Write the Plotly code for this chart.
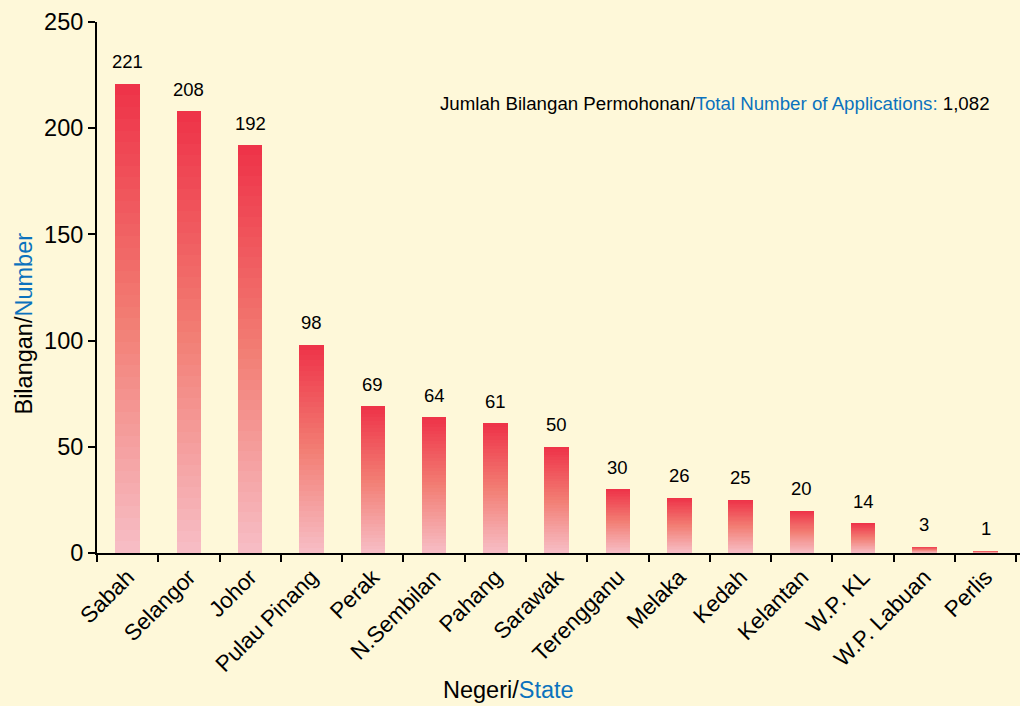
import plotly.graph_objects as go

states = ["Sabah", "Selangor", "Johor", "Pulau Pinang", "Perak", "N.Sembilan", "Pahang",
          "Sarawak", "Terengganu", "Melaka", "Kedah", "Kelantan", "W.P. KL", "W.P. Labuan", "Perlis"]
applications = [221, 208, 192, 98, 69, 64, 61, 50, 30, 26, 25, 20, 14, 3, 1]

BG = "#FEF8D9"
BLUE = "#0B72BD"
FONT = "Liberation Sans, Arial, Helvetica, sans-serif"

# gradient colour stops (bottom -> top)
stops = [(0.0, (247, 190, 198)), (0.5, (242, 125, 115)), (1.0, (238, 50, 72))]


def grad(t):
    for (t0, c0), (t1, c1) in zip(stops[:-1], stops[1:]):
        if t0 <= t <= t1:
            f = (t - t0) / (t1 - t0)
            c = [round(a + (b - a) * f) for a, b in zip(c0, c1)]
            return f"rgb({c[0]},{c[1]},{c[2]})"
    return f"rgb{stops[-1][1]}"


N = 40
fig = go.Figure()
for k in range(N):
    fig.add_trace(go.Bar(
        x=states,
        y=[v / N for v in applications],
        marker=dict(color=grad((k + 0.5) / N), line=dict(width=0)),
        width=0.4,
        hoverinfo="skip",
        showlegend=False,
    ))

# value labels
for s, v in zip(states, applications):
    fig.add_annotation(x=s, y=v, xref="x", yref="y", text=str(v), showarrow=False,
                       yanchor="middle", yshift=22,
                       font=dict(family=FONT, size=18.5, color="black"))

W, H = 1020, 706
L, R, T, B = 96.5, 0, 22, 153
pw = W - L - R
fig.add_annotation(
    x=(992 - L) / pw, y=211.5, xref="paper", yref="y", xanchor="right", yanchor="middle",
    showarrow=False,
    text=f"Jumlah Bilangan Permohonan/<span style='color:{BLUE}'>Total Number of Applications:</span> {sum(applications):,}",
    font=dict(family=FONT, size=18.7, color="black"))

# axis titles
fig.add_annotation(
    x=(508 - L) / pw, y=-(690 - (H - B)) / (H - T - B), xref="paper", yref="paper",
    xanchor="center", yanchor="middle", showarrow=False,
    text=f"Negeri/<span style='color:{BLUE}'>State</span>",
    font=dict(family=FONT, size=23.5, color="black"))
fig.add_annotation(
    x=(23 - L) / pw, y=(H - B - 324) / (H - T - B), xref="paper", yref="paper",
    xanchor="center", yanchor="middle", showarrow=False, textangle=-90,
    text=f"Bilangan/<span style='color:{BLUE}'>Number</span>",
    font=dict(family=FONT, size=23.5, color="black"))

fig.update_layout(
    width=W, height=H,
    margin=dict(l=L, r=R, t=T, b=B, pad=0),
    paper_bgcolor=BG, plot_bgcolor=BG,
    barmode="stack", bargap=0,
    font=dict(family=FONT, color="black"),
    showlegend=False,
)
fig.update_xaxes(
    range=[-0.5, 14.56], showgrid=False, zeroline=False,
    showline=True, linecolor="black", linewidth=2,
    ticks="outside", tickson="boundaries", ticklen=7, tickwidth=2, tickcolor="black",
    tickangle=-45, tickfont=dict(family=FONT, size=22.5, color="black"),
)
fig.update_yaxes(
    range=[0, 250], tickvals=[0, 50, 100, 150, 200, 250], showgrid=False, zeroline=False,
    showline=True, linecolor="black", linewidth=2,
    ticks="outside", ticklen=7, tickwidth=2, tickcolor="black",
    tickfont=dict(family=FONT, size=23.5, color="black"),
)

fig.write_html("out.html", config={"displayModeBar": False, "staticPlot": True})

# remove default page margins so the figure fills the window
with open("out.html", encoding="utf-8") as f:
    html = f.read()
html = html.replace("<head>", "<head><style>html,body{margin:0;padding:0;background:%s;}</style>" % BG, 1)
with open("out.html", "w", encoding="utf-8") as f:
    f.write(html)
